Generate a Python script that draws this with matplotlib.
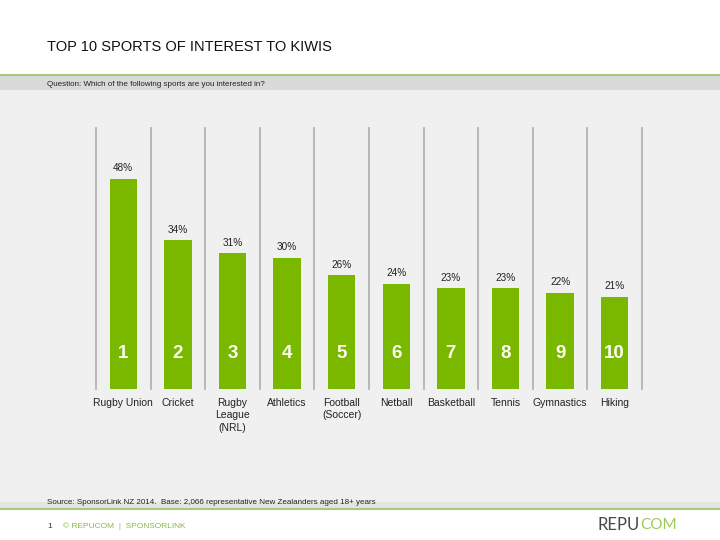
import matplotlib.pyplot as plt
from matplotlib.patches import Rectangle
from matplotlib.lines import Line2D

sports = ['Rugby Union', 'Cricket', 'Rugby\nLeague\n(NRL)', 'Athletics', 'Football\n(Soccer)',
          'Netball', 'Basketball', 'Tennis', 'Gymnastics', 'Hiking']
interest = [48, 34, 31, 30, 26, 24, 23, 23, 22, 21]
ranks = ['1', '2', '3', '4', '5', '6', '7', '8', '9', '10']

plt.rcParams['font.family'] = ['Liberation Sans', 'DejaVu Sans']

W, H = 720, 540
fig = plt.figure(figsize=(7.2, 5.4), dpi=100)
fig.patch.set_facecolor('white')

def fy(y):
    return 1 - y / H

# background bands
fig.patches.append(Rectangle((0, fy(508)), 1, fy(90) - fy(508), transform=fig.transFigure,
                             facecolor='#f0f0f0', edgecolor='none', zorder=-2))
fig.patches.append(Rectangle((0, fy(90)), 1, fy(75) - fy(90), transform=fig.transFigure,
                             facecolor='#dadada', edgecolor='none', zorder=-2))
fig.patches.append(Rectangle((0, fy(508)), 1, 6 / H, transform=fig.transFigure,
                             facecolor='#e4e4e4', edgecolor='none', zorder=-2))
fig.add_artist(Line2D([0, 1], [fy(74.5), fy(74.5)], color='#a9c77f', lw=1.5, zorder=-1))
fig.add_artist(Line2D([0, 1], [fy(508.5), fy(508.5)], color='#a9c77f', lw=1.5, zorder=-1))

fig.text(47 / W, fy(47), 'TOP 10 SPORTS OF INTEREST TO KIWIS', fontsize=10.5,
         color='#111111', va='center', ha='left')
fig.text(47 / W, fy(84), 'Question: Which of the following sports are you interested in?',
         fontsize=5.8, color='#222222', va='center', ha='left')
fig.text(47 / W, fy(502), 'Source: SponsorLink NZ 2014.  Base: 2,066 representative New Zealanders aged 18+ years',
         fontsize=5.8, color='#222222', va='center', ha='left')
fig.text(47 / W, fy(526), '1', fontsize=6, color='#333333', va='center', ha='left')
fig.text(63 / W, fy(526), '© REPUCOM  |  SPONSORLINK', fontsize=6, color='#8ab84a',
         va='center', ha='left')
fig.text(640 / W, fy(525), 'REPU', fontsize=12, color='#4a4a4a', va='center', ha='right',
         family=['Lato', 'DejaVu Sans'])
fig.text(640 / W, fy(525), 'COM', fontsize=11, color='#9ccb55', va='center', ha='left',
         family=['Lato', 'DejaVu Sans'])

# chart area
px_per_pct = 4.375
ax = fig.add_axes([96 / W, fy(389), 546 / W, (389 - 128) / H])
ax.set_zorder(1)
ax.patch.set_visible(False)
ax.set_xlim(-0.5, 9.5)
ax.set_ylim(0, (389 - 128) / px_per_pct)
for s in ax.spines.values():
    s.set_visible(False)
ax.set_xticks([])
ax.set_yticks([])

for i in range(len(sports) + 1):
    ax.axvline(i - 0.5, color='#b4b4b4', lw=1.3, zorder=1, clip_on=False)

x = range(len(sports))
ax.bar(x, interest, width=0.5, color='#7ab800', zorder=2)

for i, v in enumerate(interest):
    ax.text(i, v + 1.3, f'{v}%', ha='center', va='bottom', fontsize=7.2, color='#222222')
    ax.text(i, 8.2, ranks[i], ha='center', va='center', fontsize=13.5, fontweight='bold',
            color='#fbfdf2')
    ax.text(i, -2, sports[i], ha='center', va='top', fontsize=7.5, color='#222222',
            linespacing=1.3, clip_on=False)

fig.savefig('out.png', dpi=100, facecolor='white')
